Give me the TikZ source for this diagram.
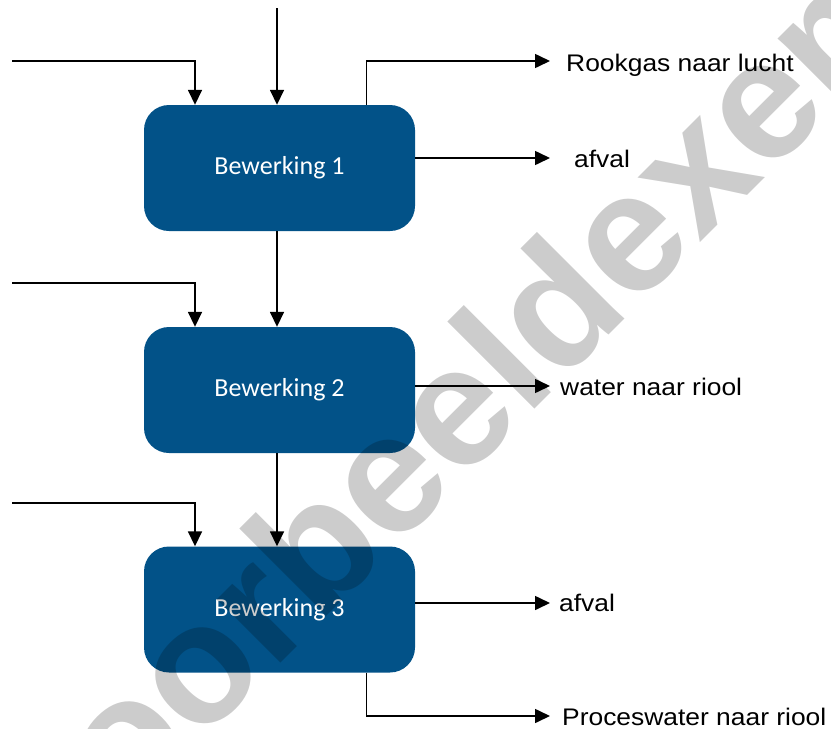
\documentclass[tikz,border=0pt]{standalone}
\usepackage{fontspec}
\usetikzlibrary{arrows.meta}
\newfontfamily\boxfont{Carlito}
\newfontfamily\labfont[FakeStretch=1.1]{Liberation Sans}
\newfontfamily\wmfont{Liberation Sans}
\definecolor{procblue}{RGB}{2,82,136}
\tikzset{
  procbox/.style={draw=none, fill=procblue, rounded corners=25pt,
    minimum width=271pt, minimum height=126pt, inner sep=0pt,
    text=white, font=\boxfont\fontsize{26}{30}\selectfont},
  flowlabel/.style={anchor=base west, inner sep=0pt,
    font=\labfont\fontsize{24}{28}\selectfont},
  flow/.style={line width=1.6pt, -{Triangle[length=15pt, width=14pt]}}
}
\begin{document}
\begin{tikzpicture}[x=1pt, y=-1pt]
\useasboundingbox (0,0) rectangle (831,729);

% process steps
\node[procbox] (b1) at (279.5,168) {Bewerking 1};
\node[procbox] (b2) at (279.5,390) {Bewerking 2};
\node[procbox] (b3) at (279.5,609.5) {Bewerking 3};

% output labels
\node[flowlabel] (l1) at (566,71) {Rookgas naar lucht};
\node[flowlabel] (l2) at (574,167.5) {afval};
\node[flowlabel] (l3) at (560,395) {water naar riool};
\node[flowlabel] (l4) at (559,611.5) {afval};
\node[flowlabel] (l5) at (562,725.5) {Proceswater naar riool};

% free ends of the inputs and tips of the outputs
\coordinate (top) at (277,8);
\coordinate (in1) at (12,61);
\coordinate (in2) at (12,283);
\coordinate (in3) at (12,503);
\coordinate (o1) at (550,61);
\coordinate (o2) at (550,158);
\coordinate (o3) at (550,386);
\coordinate (o4) at (550,603);
\coordinate (o5) at (550,716);

% inputs
\draw[flow] (top) -- (top |- b1.north);
\draw[flow] (in1) -| ([xshift=-84.5pt]b1.north);
\draw[flow] (in2) -| ([xshift=-84.5pt]b2.north);
\draw[flow] (in3) -| ([xshift=-84.5pt]b3.north);

% between the steps
\draw[flow] ([xshift=-2.5pt]b1.south) -- ([xshift=-2.5pt]b2.north);
\draw[flow] ([xshift=-2.5pt]b2.south) -- ([xshift=-2.5pt]b3.north);

% outputs
\draw[flow] ([xshift=87pt]b1.north) |- (o1);
\draw[flow] (b1.east |- o2) -- (o2);
\draw[flow] (b2.east |- o3) -- (o3);
\draw[flow] (b3.east |- o4) -- (o4);
\draw[flow] ([xshift=87pt]b3.south) |- (o5);

% watermark, multiplied over everything
\begin{scope}[blend mode=multiply]
  \clip (0,0) rectangle (831,729);
  \node[anchor=base west, rotate=45, inner sep=0pt, text=black!20,
        font=\wmfont\bfseries\fontsize{170}{200}\selectfont] (wm)
        at (58.3,885.3) {voorbeeldexemplaar};
\end{scope}
\end{tikzpicture}
\end{document}
